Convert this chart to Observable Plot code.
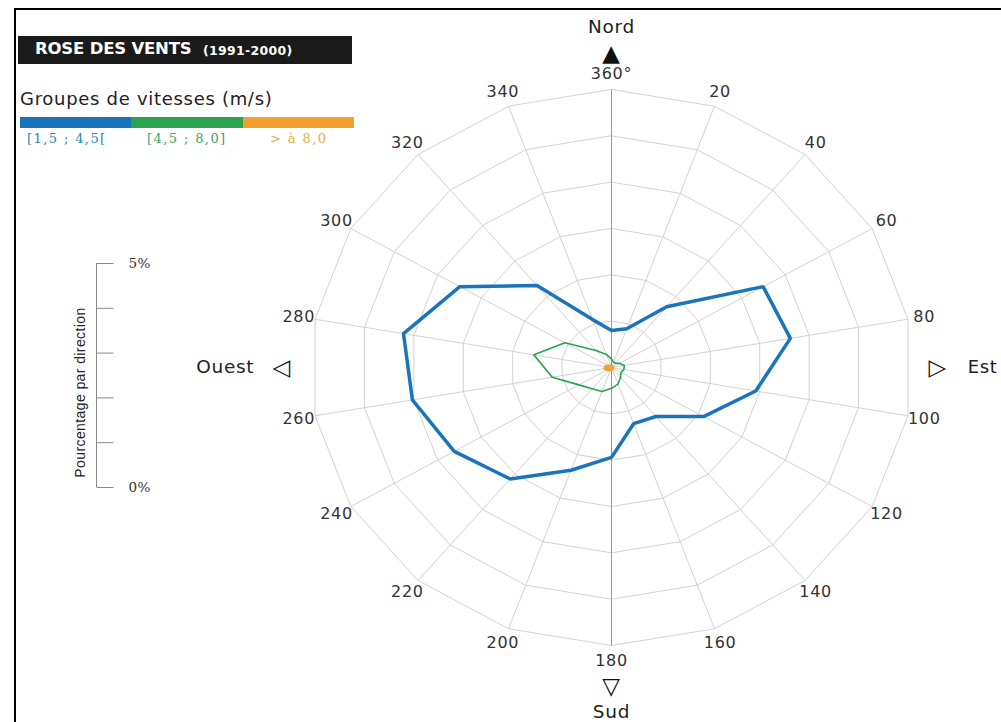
<!DOCTYPE html>
<html><head><meta charset="utf-8">
<script src="https://cdn.jsdelivr.net/npm/d3@7"></script>
<script src="https://cdn.jsdelivr.net/npm/@observablehq/plot@0.6"></script>
<style>
body{margin:0;background:#fff;}
#wrap{position:relative;width:1001px;height:722px;overflow:hidden;font-family:"DejaVu Sans",sans-serif;background:#fff;}
#frame{position:absolute;left:14px;top:8px;width:1100px;height:800px;border-top:2px solid #000;border-left:2px solid #000;z-index:3;pointer-events:none;}
#main{position:absolute;left:0;top:0;}
#scale{position:absolute;left:60px;top:250px;}
#title{position:absolute;left:18px;top:36px;width:334px;height:28px;background:#1a1a1a;color:#fff;z-index:2;}
#title .t1{position:absolute;left:17px;top:3px;font-weight:bold;font-size:16.5px;letter-spacing:-0.2px;}
#title .t2{position:absolute;left:185px;top:7px;font-weight:bold;font-size:12.5px;letter-spacing:0.3px;}
#grp{position:absolute;left:20px;top:88px;font-size:18px;letter-spacing:0.7px;color:#222;z-index:2;}
#bar{position:absolute;left:20px;top:117px;height:11px;width:334px;display:flex;z-index:2;}
#bar div{flex:1;}
.lab{position:absolute;top:131px;font-family:"DejaVu Serif",serif;font-size:13px;letter-spacing:1.4px;z-index:2;}
</style></head>
<body>
<div id="wrap">
  <div id="frame"></div>
  <div id="title"><span class="t1">ROSE DES VENTS</span><span class="t2">(1991-2000)</span></div>
  <div id="grp">Groupes de vitesses (m/s)</div>
  <div id="bar"></div>
  <div id="labs"></div>
</div>
<script>
// ---- data ----
const directions = [0,20,40,60,80,100,120,140,160,180,200,220,240,260,280,300,320,340];
const dirLabels = ["360°","20","40","60","80","100","120","140","160","180","200","220","240","260","280","300","320","340"];
// percentage per direction, by speed group
const speed1 = [0.80,0.89,1.71,3.49,3.62,2.92,2.12,1.38,1.29,1.94,2.36,3.14,3.62,4.03,4.21,3.49,2.31,1.10]; // [1,5 ; 4,5[
const speed2 = [0.18,0.12,0.12,0.18,0.26,0.25,0.22,0.28,0.38,0.45,0.55,0.60,0.75,1.20,1.57,1.07,0.48,0.30]; // [4,5 ; 8,0]
const speed3 = [0.03,0.03,0.03,0.03,0.03,0.03,0.03,0.03,0.04,0.05,0.06,0.08,0.10,0.14,0.12,0.08,0.05,0.03]; // > à 8,0
const groupNames = ["[1,5 ; 4,5[","[4,5 ; 8,0]","> à 8,0"];
const groupColors = ["#1a74bc","#2aa24e","#f2a12e"];
const groupTextColors = ["#2b86b8","#3aa56a","#e9ad4a"];
const rings = [1,2,3,4,5,6];
const cardNames = ["Nord","Est","Sud","Ouest"];
const cardSymbols = ["▲","▷","▽","◁"];
const cardDirs = [0,90,180,270];
const scaleTicks = [0,1,2,3,4,5];

// ---- helpers ----
const rad = d => d*Math.PI/180;
const px = (d,v) => v*Math.sin(rad(d));
const py = (d,v) => v*Math.cos(rad(d));

const ringData = rings.flatMap(r => directions.map(d => ({r, d})));
const series = (vals) => directions.map((d,i) => ({d, v: vals[i]}));

const symOff = [6.78, 6.5, 6.88, 6.57];
const txtOff = [7.34, 7.1, 7.43, 7.12];
const cards = cardNames.map((n,i)=>({n, s: cardSymbols[i], d: cardDirs[i], so: symOff[i], to: txtOff[i]}));

const main = Plot.plot({
  width: 1001, height: 722,
  marginLeft: 310, marginRight: 89, marginTop: 89, marginBottom: 77,
  x: {domain: [-6,6], axis: null},
  y: {domain: [-6,6], axis: null},
  style: {background: "transparent", fontFamily: "DejaVu Sans, sans-serif", letterSpacing: "0.7px"},
  marks: [
    Plot.link(directions.filter(d => d % 180 !== 0), {x1: () => 0, y1: () => 0, x2: d => px(d,6), y2: d => py(d,6), stroke: "#d2d2d2", strokeWidth: 1}),
    Plot.line(ringData, {x: p => px(p.d,p.r), y: p => py(p.d,p.r), z: "r", curve: "linear-closed", stroke: "#d2d2d2", strokeWidth: 1}),
    Plot.link([0], {x1: () => 0, y1: () => -6, x2: () => 0, y2: () => 6, stroke: "#9a9a9a", strokeWidth: 1}),
    Plot.line(series(speed1), {x: p => px(p.d,p.v), y: p => py(p.d,p.v), curve: "linear-closed", stroke: groupColors[0], strokeWidth: 3.5, strokeLinejoin: "miter"}),
    Plot.line(series(speed2), {x: p => px(p.d,p.v), y: p => py(p.d,p.v), curve: "linear-closed", stroke: groupColors[1], strokeWidth: 1.6}),
    Plot.line(series(speed3), {x: p => px(p.d,p.v), y: p => py(p.d,p.v), curve: "linear-closed", stroke: groupColors[2], fill: groupColors[2], strokeWidth: 2.5}),
    Plot.text(directions, {x: d => px(d,6.33), y: d => py(d,6.33), text: (d,i) => dirLabels[i], fontSize: 16, fill: "#333"}),
    Plot.text(cards, {x: c => px(c.d,c.so), y: c => py(c.d,c.so), text: "s", fontSize: 23, fill: "#111"}),
    Plot.text(cards.filter(c => c.d % 180 === 0), {x: c => px(c.d,c.to), y: c => py(c.d,c.to), text: "n", fontSize: 18.5, fill: "#222"}),
    Plot.text(cards.filter(c => c.d === 90), {x: c => px(c.d,c.to), y: c => py(c.d,c.to), text: "n", fontSize: 18, fill: "#222", textAnchor: "start"}),
    Plot.text(cards.filter(c => c.d === 270), {x: c => px(c.d,c.to), y: c => py(c.d,c.to), text: "n", fontSize: 18.5, fill: "#222", textAnchor: "end"})
  ]
});
main.id = "main";
document.getElementById("wrap").appendChild(main);

// scale legend
const scale = Plot.plot({
  width: 120, height: 262,
  marginLeft: 0, marginRight: 0, marginTop: 13, marginBottom: 25,
  x: {domain: [0,120], range: [0,120], axis: null},
  y: {domain: [0,5], axis: null},
  style: {background: "transparent"},
  marks: [
    Plot.ruleX([36], {y1: 0, y2: 5, stroke: "#888", strokeWidth: 1}),
    Plot.link(scaleTicks, {x1: () => 36, x2: () => 53, y1: t => t, y2: t => t, stroke: "#888", strokeWidth: 1}),
    Plot.text(scaleTicks.filter(t => t === 0 || t === 5), {x: () => 68, y: t => t, text: t => t + "%", fontSize: 13.5, fill: "#333", fontFamily: "DejaVu Serif, serif", textAnchor: "start"}),
    Plot.text(["Pourcentage par direction"], {x: () => 20, y: () => 2.12, text: d => d, rotate: -90, fontSize: 14, fill: "#222", fontFamily: "Liberation Sans, sans-serif"})
  ]
});
scale.id = "scale";
scale.style.letterSpacing = "0.4px";
document.getElementById("wrap").appendChild(scale);

// color legend
const bar = document.getElementById("bar");
groupColors.forEach(c => { const d = document.createElement("div"); d.style.background = c; bar.appendChild(d); });
const labX = [27, 147, 270];
const labs = document.getElementById("labs");
groupNames.forEach((n,i) => {
  const s = document.createElement("div");
  s.className = "lab"; s.textContent = n; s.style.left = labX[i] + "px"; s.style.color = groupTextColors[i];
  labs.appendChild(s);
});
</script>
</body></html>
